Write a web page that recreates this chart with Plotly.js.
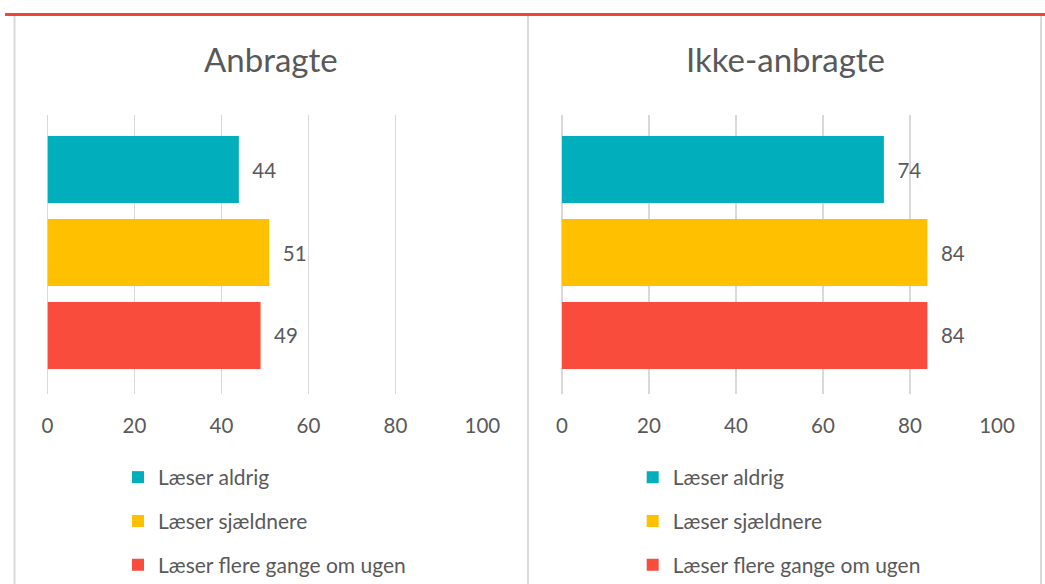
<!DOCTYPE html>
<html>
<head>
<meta charset="utf-8">
<script src="https://cdn.plot.ly/plotly-3.0.1.min.js"></script>
<style>
  html, body { margin: 0; padding: 0; background: #ffffff; }
  #chart { width: 1045px; height: 584px; }
</style>
</head>
<body>
<div id="chart"></div>
<script>
// ---- data ----
const categories = ['Læser aldrig', 'Læser sjældnere', 'Læser flere gange om ugen'];
const anbragte = [44, 51, 49];
const ikkeAnbragte = [74, 84, 84];
const panelTitles = ['Anbragte', 'Ikke-anbragte'];
const xTicks = [0, 20, 40, 60, 80, 100];
const seriesColors = ['#00AFBB', '#FFC000', '#F94C3C'];

// ---- styles ----
const FONT = 'Lato, "Open Sans", sans-serif';
const TXT = '#595959';
const GRID = '#D9D9D9';

const W = 1045, H = 584;
const px = v => v / W;
const py = v => (H - v) / H;

const panels = [
  { values: anbragte, xa: 'x', ya: 'y', legend: 'legend', dom: [px(47.5), px(482.4)] },
  { values: ikkeAnbragte, xa: 'x2', ya: 'y2', legend: 'legend2', dom: [px(562), px(997)] }
];

const traces = [];
panels.forEach((p, pi) => {
  categories.forEach((c, i) => {
    traces.push({
      type: 'bar',
      orientation: 'h',
      x: [p.values[i]],
      y: [c],
      name: c,
      xaxis: p.xa,
      yaxis: p.ya,
      legend: p.legend,
      legendgroup: 'g' + pi + '_' + i,
      marker: { color: seriesColors[i] },
      width: 0.807,
      text: [String(p.values[i])],
      texttemplate: '\u00a0\u00a0%{text}',
      textposition: 'outside',
      cliponaxis: false,
      textfont: { family: FONT, size: 20.5, color: TXT },
      hoverinfo: 'x+name'
    });
  });
});

const yDom = [py(394), py(115)];
function xAxis(dom, anchor) {
  return {
    domain: dom, anchor: anchor, range: [0, 100],
    tickvals: xTicks, ticktext: xTicks.map(String),
    showgrid: true, gridcolor: GRID, gridwidth: 1.5,
    zeroline: true, zerolinecolor: GRID, zerolinewidth: 1.5,
    showline: false, ticks: '', ticklabelstandoff: 17,
    tickfont: { family: FONT, size: 20.5, color: TXT }, fixedrange: true
  };
}
function yAxis(anchor) {
  return {
    domain: yDom, anchor: anchor, type: 'category',
    categoryarray: categories, categoryorder: 'array',
    range: [2.705, -0.657],
    showticklabels: false, showgrid: false, zeroline: false, showline: false,
    ticks: '', fixedrange: true
  };
}

const legendBase = {
  orientation: 'v', yanchor: 'top', xanchor: 'left',
  y: py(457), bgcolor: 'rgba(0,0,0,0)', borderwidth: 0,
  font: { family: FONT, size: 21, color: TXT },
  tracegroupgap: 13.5, traceorder: 'grouped'
};

const layout = {
  width: W, height: H,
  margin: { l: 0, r: 0, t: 0, b: 0, pad: 0, autoexpand: false },
  paper_bgcolor: '#ffffff', plot_bgcolor: 'rgba(0,0,0,0)',
  font: { family: FONT, color: TXT },
  barmode: 'overlay',
  showlegend: true,
  xaxis: xAxis(panels[0].dom, 'y'),
  yaxis: yAxis('x'),
  xaxis2: xAxis(panels[1].dom, 'y2'),
  yaxis2: yAxis('x2'),
  legend: Object.assign({}, legendBase, { x: px(118) }),
  legend2: Object.assign({}, legendBase, { x: px(632.7) }),
  annotations: [
    { text: panelTitles[0], xref: 'paper', yref: 'paper', x: px(271), y: py(59),
      xanchor: 'center', yanchor: 'middle', showarrow: false,
      font: { family: FONT, size: 33, color: TXT } },
    { text: panelTitles[1], xref: 'paper', yref: 'paper', x: px(785), y: py(59),
      xanchor: 'center', yanchor: 'middle', showarrow: false,
      font: { family: FONT, size: 33, color: TXT } }
  ],
  shapes: [
    { type: 'line', xref: 'paper', yref: 'paper', x0: px(14.5), x1: px(14.5), y0: 0, y1: py(16),
      line: { color: GRID, width: 2 } },
    { type: 'line', xref: 'paper', yref: 'paper', x0: px(528), x1: px(528), y0: 0, y1: py(16),
      line: { color: GRID, width: 2 } },
    { type: 'line', xref: 'paper', yref: 'paper', x0: px(1041), x1: px(1041), y0: 0, y1: py(16),
      line: { color: GRID, width: 2 } },
    { type: 'line', xref: 'paper', yref: 'paper', x0: px(5), x1: 1, y0: py(14.5), y1: py(14.5),
      line: { color: '#EE4539', width: 3 } }
  ]
};

Plotly.newPlot('chart', traces, layout, { staticPlot: true, displayModeBar: false });
</script>
</body>
</html>
